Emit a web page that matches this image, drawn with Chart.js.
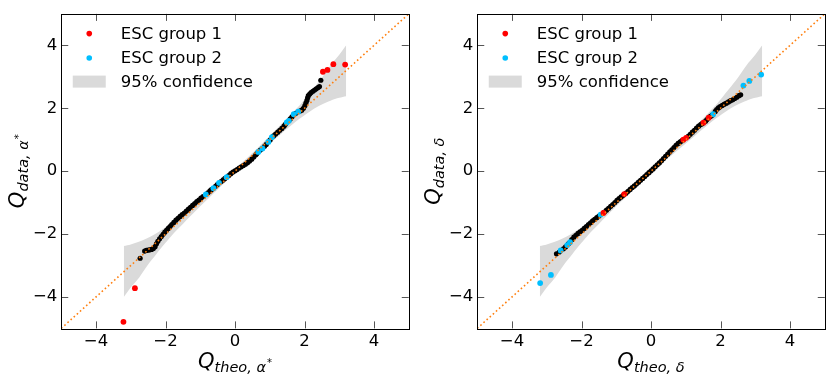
<!DOCTYPE html>
<html>
<head>
<meta charset="utf-8">
<script src="https://cdn.jsdelivr.net/npm/chart.js@4/dist/chart.umd.min.js"></script>
<style>
  html, body { margin: 0; padding: 0; background: #fff; }
  .row { display: flex; width: 831px; height: 381px; }
  canvas { display: block; }
</style>
</head>
<body>
<div class="row">
  <canvas id="qqAlpha" width="415" height="381"></canvas>
  <canvas id="qqDelta" width="416" height="381"></canvas>
</div>
<script>
// ======================= DATA =======================

const tickValues = [-4, -2, 0, 2, 4];
const refLine = [-5, 5];

// 95% confidence band (shared by both panels)
const bandX    = [-3.2, -3.0, -2.75, -2.5, -2.25, -2.0, -1.8, -1.5, -1.0, -0.5, 0, 0.5, 1.0, 1.5, 1.8, 2.0, 2.25, 2.5, 2.75, 3.0, 3.2];
const bandLow  = [-4.0, -3.7, -3.37, -2.97, -2.62, -2.28, -2.02, -1.68, -1.12, -0.58, -0.07, 0.42, 0.88, 1.35, 1.62, 1.78, 1.97, 2.12, 2.24, 2.33, 2.38];
const bandHigh = [-2.38, -2.33, -2.24, -2.12, -1.97, -1.78, -1.62, -1.35, -0.88, -0.42, 0.07, 0.58, 1.12, 1.68, 2.02, 2.28, 2.62, 2.97, 3.37, 3.7, 4.0];

// alpha* panel
const alphaAllX = [-2.73, -2.60, -2.55, -2.50, -2.45, -2.40, -2.35, -2.30, -2.26, -2.22, -2.17, -2.12, -2.07, -2.02, -1.97, -1.92, -1.87, -1.82, -1.76, -1.70,
  -1.64, -1.58, -1.52, -1.46, -1.40, -1.34, -1.28, -1.22, -1.16, -1.10, -1.04, -0.98, -0.92, -0.78, -0.72, -0.68, -0.56, -0.51, -0.40, -0.34,
  -0.29, -0.18, -0.12, -0.06, 0.00, 0.06, 0.12, 0.18, 0.24, 0.30, 0.36, 0.42, 0.48, 0.54, 0.60, 0.63, 0.73, 0.85, 0.90, 1.01,
  1.11, 1.17, 1.23, 1.29, 1.35, 1.41, 1.45, 1.59, 1.64, 1.75, 1.87, 1.92, 1.97, 2.01, 2.04, 2.07, 2.09, 2.11, 2.15, 2.19,
  2.24, 2.29, 2.34, 2.39, 2.43, 2.47];
const alphaAllY = [-2.77, -2.54, -2.52, -2.51, -2.50, -2.49, -2.46, -2.40, -2.31, -2.23, -2.15, -2.08, -2.01, -1.94, -1.88, -1.82, -1.76, -1.70, -1.63, -1.56,
  -1.50, -1.44, -1.38, -1.33, -1.27, -1.21, -1.15, -1.09, -1.03, -0.97, -0.92, -0.86, -0.81, -0.69, -0.63, -0.59, -0.48, -0.43, -0.33, -0.28,
  -0.23, -0.14, -0.08, -0.03, 0.01, 0.05, 0.10, 0.14, 0.18, 0.22, 0.27, 0.32, 0.38, 0.45, 0.52, 0.56, 0.67, 0.79, 0.85, 0.99,
  1.12, 1.18, 1.24, 1.30, 1.36, 1.43, 1.49, 1.66, 1.73, 1.84, 1.91, 1.94, 2.00, 2.08, 2.16, 2.25, 2.33, 2.40, 2.45, 2.50,
  2.54, 2.58, 2.62, 2.66, 2.69, 2.89];
const alphaGroup1X = [-3.21, -2.88, 2.53, 2.66, 2.83, 3.17];
const alphaGroup1Y = [-4.79, -3.72, 3.16, 3.22, 3.40, 3.39];
const alphaGroup2X = [-0.84, -0.62, -0.46, -0.24, 0.67, 0.79, 0.96, 1.06, 1.49, 1.55, 1.69, 1.82];
const alphaGroup2Y = [-0.74, -0.54, -0.37, -0.19, 0.61, 0.72, 0.93, 1.08, 1.55, 1.60, 1.81, 1.89];

// delta panel
const deltaAllX = [-2.72, -2.64, -2.52, -2.46, -2.37, -2.28, -2.22, -2.16, -2.10, -2.04, -1.98, -1.92, -1.86, -1.80, -1.74, -1.68, -1.62, -1.56, -1.50, -1.34,
  -1.28, -1.22, -1.16, -1.10, -1.04, -0.98, -0.92, -0.86, -0.80, -0.72, -0.66, -0.60, -0.54, -0.48, -0.42, -0.36, -0.30, -0.24, -0.18, -0.12,
  -0.06, 0.00, 0.06, 0.12, 0.18, 0.24, 0.30, 0.36, 0.42, 0.48, 0.54, 0.60, 0.66, 0.72, 0.78, 0.84, 0.89, 1.07, 1.13, 1.19,
  1.25, 1.31, 1.37, 1.43, 1.47, 1.57, 1.61, 1.71, 1.76, 1.85, 1.89, 1.94, 1.99, 2.05, 2.11, 2.17, 2.23, 2.29, 2.35, 2.41,
  2.47, 2.53, 2.58];
const deltaAllY = [-2.63, -2.57, -2.47, -2.41, -2.30, -2.18, -2.10, -2.04, -1.98, -1.93, -1.88, -1.82, -1.76, -1.70, -1.64, -1.58, -1.53, -1.48, -1.43, -1.30,
  -1.24, -1.18, -1.12, -1.06, -1.00, -0.93, -0.87, -0.82, -0.77, -0.70, -0.64, -0.58, -0.52, -0.47, -0.41, -0.35, -0.29, -0.23, -0.17, -0.11,
  -0.05, 0.01, 0.07, 0.14, 0.20, 0.26, 0.33, 0.40, 0.47, 0.54, 0.61, 0.68, 0.75, 0.82, 0.88, 0.93, 0.97, 1.11, 1.17, 1.24,
  1.30, 1.37, 1.43, 1.48, 1.51, 1.59, 1.64, 1.74, 1.78, 1.90, 1.96, 2.01, 2.05, 2.09, 2.13, 2.16, 2.20, 2.24, 2.27, 2.31,
  2.35, 2.40, 2.43];
const deltaGroup1X = [-1.37, -0.77, 0.93, 1.01, 1.51, 1.66];
const deltaGroup1Y = [-1.33, -0.73, 1.00, 1.06, 1.54, 1.70];
const deltaGroup2X = [-3.19, -2.88, -2.60, -2.41, -2.33, -1.45, 1.79, 2.66, 2.83, 3.17];
const deltaGroup2Y = [-3.56, -3.30, -2.52, -2.35, -2.26, -1.38, 1.81, 2.72, 2.87, 3.07];

const legendLabels = ['ESC group 1', 'ESC group 2', '95% confidence'];

// ======================= STYLE =======================

const colors = {
  all: '#000000',
  group1: '#ff0000',
  group2: '#00bfff',
  band: '#dadada',
  ref: '#ff7f0e',
  frame: '#000000',
  tick: '#555555'
};
const fontFamily = '"DejaVu Sans", sans-serif';
Chart.defaults.font.family = fontFamily;
Chart.defaults.color = '#000';

const toPoints = (xs, ys) => xs.map((x, i) => ({ x: x, y: ys[i] }));
const fmtTick = (v) => (v < 0 ? '\u2212' + Math.abs(v) : String(v));

// ======================= PLUGINS =======================

// box + inward ticks on all four sides
const framePlugin = {
  id: 'frame',
  afterDatasetsDraw(chart) {
    const { ctx, chartArea: a, scales } = chart;
    const len = 7;
    ctx.save();
    ctx.strokeStyle = colors.tick;
    ctx.lineWidth = 1;
    ctx.beginPath();
    tickValues.forEach((v) => {
      const px = Math.round(scales.x.getPixelForValue(v)) + 0.5;
      ctx.moveTo(px, a.bottom); ctx.lineTo(px, a.bottom - len);
      ctx.moveTo(px, a.top); ctx.lineTo(px, a.top + len);
      const py = Math.round(scales.y.getPixelForValue(v)) + 0.5;
      ctx.moveTo(a.left, py); ctx.lineTo(a.left + len, py);
      ctx.moveTo(a.right, py); ctx.lineTo(a.right - len, py);
    });
    ctx.stroke();
    ctx.strokeStyle = colors.frame;
    ctx.strokeRect(Math.round(a.left) + 0.5, Math.round(a.top) + 0.5,
      Math.round(a.right - a.left), Math.round(a.bottom - a.top));
    ctx.restore();
  }
};

function drawMathLabel(ctx, sub, sup) {
  const mainFont = 'italic 21px ' + fontFamily;
  const subFont = 'italic 14.5px ' + fontFamily;
  const supFont = 'italic 10px ' + fontFamily;
  ctx.font = mainFont;
  const wQ = ctx.measureText('Q').width;
  ctx.font = subFont;
  const wS = ctx.measureText(sub).width;
  ctx.font = supFont;
  const wP = sup ? ctx.measureText(sup).width + 1 : 0;
  const x0 = -(wQ + wS + wP) / 2;
  ctx.textBaseline = 'alphabetic';
  ctx.textAlign = 'left';
  ctx.fillStyle = '#000';
  ctx.font = mainFont;
  ctx.fillText('Q', x0, 0);
  ctx.font = subFont;
  ctx.fillText(sub, x0 + wQ, 4);
  if (sup) {
    ctx.font = supFont;
    ctx.fillText(sup, x0 + wQ + wS + 1, -2);
  }
}

const titlesPlugin = {
  id: 'mathTitles',
  afterDraw(chart, args, opts) {
    const { ctx, chartArea: a } = chart;
    ctx.save();
    ctx.translate((a.left + a.right) / 2, 368);
    drawMathLabel(ctx, opts.xSub, opts.sup);
    ctx.restore();
    ctx.save();
    ctx.translate(a.left - 37, (a.top + a.bottom) / 2);
    ctx.rotate(-Math.PI / 2);
    drawMathLabel(ctx, opts.ySub, opts.sup);
    ctx.restore();
  }
};

const legendPlugin = {
  id: 'insideLegend',
  afterDraw(chart) {
    const { ctx, chartArea: a } = chart;
    const rows = [a.top + 19.7, a.top + 44.1, a.top + 67.7];
    ctx.save();
    ctx.font = '16.5px ' + fontFamily;
    ctx.textBaseline = 'middle';
    ctx.textAlign = 'left';
    [colors.group1, colors.group2].forEach((c, i) => {
      ctx.fillStyle = c;
      ctx.beginPath();
      ctx.arc(a.left + 28, rows[i], 2.8, 0, Math.PI * 2);
      ctx.fill();
    });
    ctx.fillStyle = colors.band;
    ctx.fillRect(a.left + 11.5, rows[2] - 6, 33, 12);
    ctx.fillStyle = '#000';
    legendLabels.forEach((t, i) => ctx.fillText(t, a.left + 59.5, rows[i] + 1));
    ctx.restore();
  }
};

// ======================= CHART =======================

function axisOptions(isX) {
  return {
    type: 'linear',
    min: -5,
    max: 5,
    grid: { display: false, drawTicks: false },
    border: { display: false },
    afterBuildTicks: (scale) => { scale.ticks = tickValues.map((v) => ({ value: v })); },
    afterFit: isX ? (scale) => { scale.height = 52.6; } : (scale) => { scale.width = 40; },
    ticks: {
      padding: isX ? 3 : 4,
      color: '#000',
      font: { size: 16.5 },
      maxRotation: 0,
      autoSkip: false,
      callback: fmtTick
    }
  };
}

function renderQQChart(canvasId, panel) {
  const ctx = document.getElementById(canvasId);
  if (!ctx) {
    console.warn(`Canvas element ${canvasId} not found`);
    return null;
  }

  return new Chart(ctx, {
    type: 'scatter',
    data: {
      datasets: [
        {
          label: 'reference',
          data: toPoints(refLine, refLine),
          showLine: true,
          borderColor: colors.ref,
          borderWidth: 1.6,
          borderDash: [1.6, 2.6],
          pointRadius: 0,
          order: 0
        },
        {
          label: legendLabels[0],
          data: toPoints(panel.g1x, panel.g1y),
          backgroundColor: colors.group1,
          borderWidth: 0,
          pointRadius: 2.9,
          order: 1
        },
        {
          label: legendLabels[1],
          data: toPoints(panel.g2x, panel.g2y),
          backgroundColor: colors.group2,
          borderWidth: 0,
          pointRadius: 2.9,
          order: 2
        },
        {
          label: 'all',
          data: toPoints(panel.allX, panel.allY),
          backgroundColor: colors.all,
          borderWidth: 0,
          pointRadius: 2.6,
          order: 3
        },
        {
          label: 'band low',
          data: toPoints(bandX, bandLow),
          showLine: true,
          borderWidth: 0,
          borderColor: 'rgba(0,0,0,0)',
          pointRadius: 0,
          tension: 0.3,
          fill: false,
          order: 5
        },
        {
          label: legendLabels[2],
          data: toPoints(bandX, bandHigh),
          showLine: true,
          borderWidth: 0,
          borderColor: 'rgba(0,0,0,0)',
          backgroundColor: colors.band,
          pointRadius: 0,
          tension: 0.3,
          fill: '-1',
          order: 4
        }
      ]
    },
    options: {
      responsive: false,
      animation: false,
      events: [],
      layout: { padding: { left: panel.padLeft, right: 6.25, top: 7.6, bottom: 0 } },
      plugins: {
        legend: { display: false },
        tooltip: { enabled: false },
        mathTitles: { xSub: panel.xSub, ySub: panel.ySub, sup: panel.sup }
      },
      scales: {
        x: axisOptions(true),
        y: axisOptions(false)
      }
    },
    plugins: [framePlugin, titlesPlugin, legendPlugin]
  });
}

renderQQChart('qqAlpha', {
  allX: alphaAllX, allY: alphaAllY,
  g1x: alphaGroup1X, g1y: alphaGroup1Y,
  g2x: alphaGroup2X, g2y: alphaGroup2Y,
  xSub: 'theo, \u03b1', ySub: 'data, \u03b1', sup: '*',
  padLeft: 21.25
});

renderQQChart('qqDelta', {
  allX: deltaAllX, allY: deltaAllY,
  g1x: deltaGroup1X, g1y: deltaGroup1Y,
  g2x: deltaGroup2X, g2y: deltaGroup2Y,
  xSub: 'theo, \u03b4', ySub: 'data, \u03b4', sup: '',
  padLeft: 22.25
});
</script>
</body>
</html>
